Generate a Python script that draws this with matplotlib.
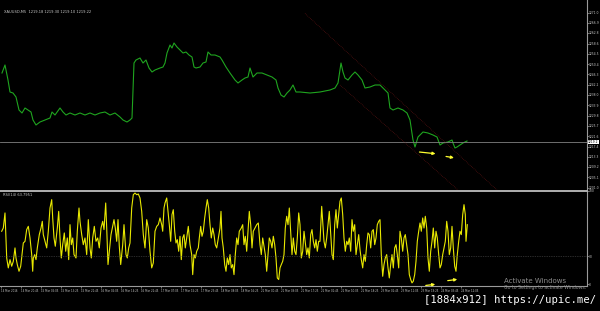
import numpy as np
import matplotlib.pyplot as plt

# price line (x = bar position, y = price)
price_x = [2, 5, 8, 10, 13, 16, 19, 22, 25, 28, 31, 33, 36, 40, 45, 50, 52, 55, 60, 63, 66, 70,
           75, 80, 85, 90, 95, 100, 105, 110, 115, 120, 123, 127, 130, 132, 134, 136, 140, 143,
           146, 149, 152, 155, 160, 163, 165, 167, 170, 172, 174, 177, 180, 183, 186, 189, 192,
           194, 196, 200, 203, 206, 208, 211, 215, 220, 222, 226, 230, 235, 238, 242, 245, 248,
           250, 253, 257, 262, 267, 272, 276, 278, 281, 284, 287, 290, 293, 296, 300, 310, 320,
           330, 335, 338, 341, 343, 345, 348, 352, 355, 358, 362, 365, 370, 375, 380, 385, 388,
           390, 393, 398, 403, 407, 410, 413, 415, 418, 423, 428, 433, 437, 440, 443, 448, 452,
           453, 455, 457, 460, 463, 467]
price_y = [1246.8, 1250.0, 1244.0, 1239.2, 1238.8, 1237.2, 1232.0, 1230.8, 1232.8, 1232.0, 1231.2,
           1228.0, 1226.0, 1227.2, 1228.0, 1228.8, 1231.2, 1230.0, 1232.8, 1231.2, 1230.0, 1230.8,
           1230.0, 1230.8, 1230.0, 1230.8, 1230.0, 1230.8, 1231.2, 1230.0, 1230.8, 1229.2, 1228.0,
           1227.2, 1228.0, 1228.8, 1250.8, 1252.0, 1252.8, 1250.8, 1252.0, 1248.8, 1247.2, 1248.0,
           1248.8, 1249.2, 1250.8, 1254.8, 1258.0, 1256.8, 1258.8, 1257.2, 1256.0, 1254.8, 1255.2,
           1254.0, 1253.2, 1249.2, 1248.8, 1249.2, 1250.8, 1251.2, 1255.2, 1254.0, 1254.0, 1253.2,
           1252.0, 1249.2, 1246.8, 1244.0, 1242.8, 1244.0, 1244.8, 1245.2, 1248.8, 1245.2, 1246.8,
           1246.8, 1246.0, 1245.2, 1244.0, 1240.8, 1238.0, 1237.2, 1238.8, 1240.0, 1242.0, 1239.2,
           1239.2, 1238.8, 1239.2, 1240.0, 1240.8, 1242.8, 1250.8, 1247.2, 1244.8, 1244.0, 1246.0,
           1247.2, 1246.0, 1244.0, 1240.8, 1241.2, 1242.0, 1242.0, 1240.0, 1238.8, 1232.8, 1232.0,
           1232.8, 1232.0, 1230.8, 1228.0, 1220.0, 1217.2, 1221.2, 1223.2, 1222.8, 1222.0, 1221.2,
           1218.0, 1218.8, 1219.2, 1220.0, 1218.8, 1216.8, 1217.2, 1218.0, 1218.8, 1219.6]
last_price = 1219.2

# oscillator
osc_x = [1.7, 3.3, 5, 6, 6.7, 8.3, 10, 11.7, 13.3, 15, 16, 17.3, 19, 20.7, 22, 23.3, 25, 26.7, 28.3,
         30, 31.7, 32.7, 33.3, 34.7, 36, 37.3, 39.3, 41, 42.3, 43.3, 45, 46.7, 48.3, 50, 51.7, 52.7,
         54, 55.3, 57.3, 58.7, 60, 61.3, 62.7, 64.3, 65.7, 67.3, 68.7, 70, 71.3, 72.7, 74, 76, 77.3,
         79, 80, 81.7, 83.3, 85, 86.7, 88.3, 90, 91.3, 92.7, 94.3, 96, 97.7, 99.3, 101, 102.7, 104,
         105.7, 106.7, 108, 109.3, 111, 112.3, 114, 115.3, 116.7, 118, 119.3, 120.7, 122.7, 124, 126,
         127.3, 128.7, 130, 131.7, 133.3, 135, 136.7, 138.3, 140, 141.7, 143.3, 145, 146.7, 148.3,
         150, 151.7, 153.3, 155, 156.7, 158.3,
         160, 161.7, 162.7, 164, 165, 166.7, 168, 169.3, 170.7, 172, 173.3, 174.7, 176, 177.3, 178.7,
         180, 181.3, 182.7, 184, 185.3, 186.7, 188.3, 190, 191.7, 192.7, 194, 195.3, 196.7, 198.3,
         199.3, 200.7, 202, 203.3, 204.7, 206, 207.3, 208.7, 210, 211.3, 212.7, 214, 215.3, 216.7,
         218.3, 220, 221, 222, 223.3, 224.7, 226, 227.3, 228.7, 230, 231.3, 232.7, 234, 235.3, 236.7,
         238, 239.3, 241.3, 242.7, 244, 245.3, 246.7, 248, 249.3, 250.7, 252, 253.3, 255, 256.7,
         258.3, 260, 261.3, 262.7, 264, 265.3, 266.7, 268, 269.3, 270.7, 272, 273.3, 274.7, 276,
         277.3, 278.7, 280, 281.3, 282.7, 284, 285.3, 286.7, 288, 289.3, 290.7, 292, 293.3, 294.7,
         296, 297.3, 298.7, 300, 301.3, 302.7, 304, 305.3, 306.7, 308, 309.3, 310.7, 312, 313.3,
         314.7, 316, 317.3, 318.7,
         320, 321.7, 322.7, 324, 325.3, 326.7, 328, 329.3, 330.7, 332, 333.3, 334.7, 336, 337.3,
         338.7, 340, 341.3, 342.7, 344, 345.3, 346.7, 348, 349.3, 350.7, 352, 353.3, 354.7, 356,
         357.3, 358.7, 360, 361.3, 362.7, 364, 365.3, 366.7, 368, 369.3, 370.7, 372, 373.3, 374.7,
         376, 377.3, 378.7, 380, 381.3, 382.7, 384, 385.3, 386.7, 388, 389.3, 390.7, 392, 393.3,
         394.7, 396, 397.3, 398.7, 400, 401.3, 402.7, 404, 405.3, 406.7, 408, 409.3, 410.7, 412,
         413.3, 414.7, 416, 417.3, 418.7, 420, 421.3, 422.7, 424, 425.3, 426.7, 428, 429.3, 430.7,
         432, 433.3, 434.7, 436, 437.3, 438.7, 440, 441.3, 442.7, 444, 445.3, 446.7, 448, 449.3,
         450.7, 452, 453.3, 454.7, 456, 457.3, 458.7, 460, 461.3, 462.7, 464, 465.3, 466, 467.3]
osc_y = [56.7, 60.2, 76.4, 49.5, 28.0, 17.3, 26.2, 19.1, 24.4, 38.8, 28.0, 20.9, 13.7, 19.1, 31.6,
         44.1, 45.9, 58.5, 62.0, 49.5, 31.6, 13.7, 28.0, 31.6, 26.2, 38.8, 53.1, 60.2, 67.4, 53.1,
         45.9, 38.8, 56.7, 81.7, 90.7, 71.0, 49.5, 40.6, 60.2, 78.1, 49.5, 28.0, 42.3, 54.9, 35.2,
         49.5, 26.2, 63.8, 42.3, 49.5, 31.6, 28.0, 56.7, 81.7, 67.4, 53.1, 42.3, 49.5, 31.6, 69.2,
         38.8, 28.0, 49.5, 62.0, 45.9, 49.5, 38.8, 60.2, 67.4, 58.5, 87.1, 60.2, 20.9, 35.2, 53.1,
         60.2, 69.2, 60.2, 45.9, 69.2, 40.6, 20.9, 42.3, 63.8, 31.6, 28.0, 38.8, 44.1, 81.7, 96.0,
         97.8, 96.0, 96.8, 92.5, 78.1, 53.1, 38.8, 69.2, 60.2, 35.2, 17.3, 22.7, 56.7, 62.0, 63.8,
         71.0, 63.8, 56.7, 81.7, 87.1, 92.5, 78.1, 63.8, 45.9, 74.6, 79.9, 56.7, 44.1, 47.7, 35.2,
         51.3, 26.2, 49.5, 53.1, 38.8, 49.5, 62.0, 42.3, 31.6, 10.1, 31.6, 28.0, 35.2, 38.8, 49.5,
         62.0, 51.3, 56.7, 71.0, 81.7, 90.7, 81.7, 63.8, 49.5, 60.2, 53.1, 42.3, 38.8, 49.5, 60.2,
         78.1, 49.5, 38.8, 20.9, 13.7, 28.0, 20.9, 31.6, 17.3, 20.9, 10.1, 31.6, 49.5, 42.3, 56.7,
         60.2, 63.8, 42.3, 51.3, 35.2, 56.7, 78.1, 63.8, 38.8, 56.7, 60.2, 63.8, 65.6, 42.3, 31.6,
         49.5, 40.6, 31.6, 13.7, 31.6, 49.5, 45.9, 38.8, 51.3, 42.3, 28.0, 6.5, 4.8, 17.3, 20.9,
         24.4, 31.6, 60.2, 72.8, 63.8, 81.7, 56.7, 31.6, 49.5, 35.2, 31.6, 49.5, 76.4, 63.8, 28.0,
         35.2, 56.7, 44.1, 31.6, 38.8, 28.0, 53.1, 58.5, 45.9, 38.8, 47.7, 35.2, 45.9,
         45.9, 83.5, 67.4, 45.9, 38.8, 49.5, 63.8, 78.1, 53.1, 31.6, 26.2, 63.8, 79.9, 60.2, 74.6,
         88.9, 92.5, 74.6, 49.5, 35.2, 45.9, 42.3, 49.5, 35.2, 69.2, 56.7, 63.8, 31.6, 42.3, 53.1,
         37.0, 26.2, 17.3, 31.6, 24.4, 42.3, 54.9, 53.1, 38.8, 56.7, 58.5, 42.3, 49.5, 63.8, 67.4,
         69.2, 31.6, 8.3, 20.9, 28.0, 31.6, 17.3, 6.5, 20.9, 31.6, 17.3, 38.8, 42.3, 31.6, 17.3,
         56.7, 49.5, 35.2, 49.5, 53.1, 42.3, 31.6, 10.1, 4.8, 1.2, 3.0, 10.1, 24.4, 45.9, 56.7,
         65.6, 56.7, 71.0, 60.2, 72.8, 60.2, 28.0, 13.7, 35.2, 45.9, 60.2, 38.8, 56.7, 49.5, 31.6,
         17.3, 20.9, 31.6, 38.8, 45.9, 67.4, 56.7, 31.6, 38.8, 62.0, 38.8, 19.1, 13.7, 31.6, 45.9,
         56.7, 53.1, 74.6, 85.3, 74.6, 45.9, 63.8]

# channel lines and arrows drawn on the chart
chan_upper = ([305, 497], [1270.6, 1200.0])
chan_lower = ([340, 458], [1242.0, 1200.0])
price_arrows = [((416.7, 1215.3), (438.3, 1214.4)), ((443.3, 1213.6), (456.7, 1212.7))]
osc_arrows = [((423, -1.9), (438, 0.0)), ((445, 3.2), (460, 5.4))]

price_ticks = [1271.0, 1266.9, 1262.8, 1258.6, 1254.5, 1250.4, 1246.3, 1242.2, 1238.0, 1233.9,
               1229.8, 1225.7, 1221.6, 1217.4, 1213.3, 1209.2, 1205.1, 1201.0]
osc_ticks = [100, 30, 0]
time_pos = [1 + 20 * k for k in range(24)]
time_labels = ["14 Mar 2016", "14 Mar 20:45", "15 Mar 05:05", "15 Mar 13:25", "15 Mar 21:45",
               "16 Mar 06:05", "16 Mar 14:25", "16 Mar 22:45", "17 Mar 07:05", "17 Mar 15:25",
               "17 Mar 23:45", "18 Mar 08:05", "18 Mar 16:25", "21 Mar 00:45", "21 Mar 09:05",
               "21 Mar 17:25", "22 Mar 01:45", "22 Mar 10:05", "22 Mar 18:25", "23 Mar 02:45",
               "23 Mar 11:05", "23 Mar 19:25", "24 Mar 03:45", "24 Mar 12:05"]

W, H = 600, 311
grey = '#9a9a9a'
txt = '#c8c8c8'

fig = plt.figure(figsize=(W / 100, H / 100), dpi=100, facecolor='black')


def px_axes(x0, y0, x1, y1):
    return fig.add_axes([x0 / W, 1 - y1 / H, (x1 - x0) / W, (y1 - y0) / H])


ax1 = px_axes(0, 0, 586.5, 190)
ax2 = px_axes(0, 191, 586.5, 286)

for ax in (ax1, ax2):
    ax.set_facecolor('black')
    ax.set_xlim(0, 586.5)
    for s in ax.spines.values():
        s.set_visible(False)
    ax.spines['right'].set_visible(True)
    ax.spines['right'].set_color(grey)
    ax.spines['right'].set_linewidth(0.8)
    ax.yaxis.tick_right()
    ax.tick_params(axis='y', colors=grey, labelcolor=txt, labelsize=2.2, length=1.2, width=0.5, pad=0.5)

# main price window
ax1.set_ylim(1200, 1276)
ax1.plot(price_x, price_y, color='#1fa51f', lw=0.8)
ax1.axhline(last_price, color='#808080', lw=0.6)
ax1.plot(*chan_upper, color='#6a1515', lw=0.5, ls=(0, (1, 1.5)))
ax1.plot(*chan_lower, color='#6a1515', lw=0.5, ls=(0, (1, 1.5)))
for a, b in price_arrows:
    ax1.annotate('', xy=b, xytext=a,
                 arrowprops=dict(arrowstyle='-|>', color='#ffff30', lw=0.9, mutation_scale=4))
ax1.set_xticks([])
ax1.set_yticks(price_ticks)
ax1.set_yticklabels([f'{v:.1f}' for v in price_ticks])
ax1.text(588, last_price, f'{last_price:.1f}', fontsize=2.2, color='black',
         va='center', ha='left', clip_on=False,
         bbox=dict(boxstyle='square,pad=0.15', fc='white', ec='none'))
fig.text(4 / W, 1 - 12 / H, 'XAUUSD,M5  1219.18 1219.30 1219.10 1219.22',
         fontsize=2.6, color=txt, va='center')

# oscillator window
ax2.set_ylim(-2.15, 100)
ax2.plot(osc_x, osc_y, color='#e8e800', lw=0.8)
ax2.axhline(30, color='#555555', lw=0.5, ls=(0, (1, 1.5)))
for a, b in osc_arrows:
    ax2.annotate('', xy=b, xytext=a, annotation_clip=False,
                 arrowprops=dict(arrowstyle='-|>', color='#ffff30', lw=0.9, mutation_scale=4))
ax2.set_yticks(osc_ticks)
ax2.set_yticklabels([str(v) for v in osc_ticks])
ax2.spines['bottom'].set_visible(True)
ax2.spines['bottom'].set_color(grey)
ax2.spines['bottom'].set_linewidth(0.8)
ax2.set_xticks(time_pos)
ax2.set_xticklabels(time_labels, ha='left')
ax2.tick_params(axis='x', colors=grey, labelcolor=txt, labelsize=1.9, length=1.2, width=0.5, pad=1)
fig.text(3 / W, 1 - 195 / H, 'RSI(14) 63.7951', fontsize=2.6, color=txt, va='center')

# window separator
fig.add_artist(plt.Line2D([0, 586.5 / W], [1 - 190.5 / H, 1 - 190.5 / H], color='#b0b0b0', lw=1.4))

# overlay texts from the screenshot
fig.text(504 / W, 1 - 281 / H, 'Activate Windows', fontsize=5, color='#8c8c8c', va='center')
fig.text(504 / W, 1 - 288 / H, 'Go to Settings to activate Windows.', fontsize=3.3,
         color='#8c8c8c', va='center')
fig.text(596 / W, 1 - 300 / H, '[1884x912] https://upic.me/', fontsize=7.6, color='white',
         family='DejaVu Sans Mono', ha='right', va='center')

fig.savefig('out.png', dpi=100, facecolor='black')
